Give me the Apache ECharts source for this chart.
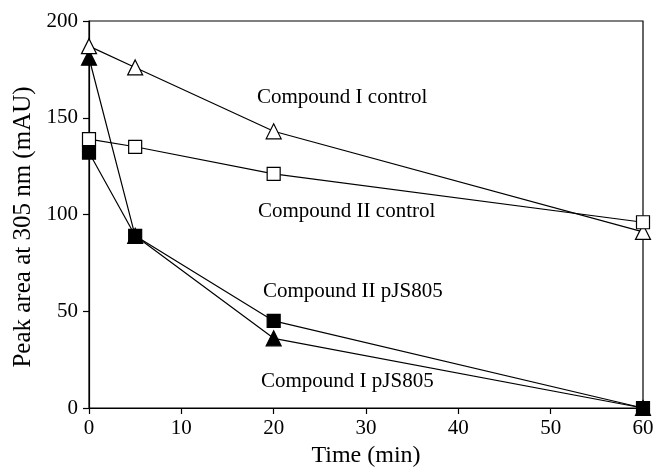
<!DOCTYPE html>
<html>
<head>
<meta charset="utf-8">
<script src="https://cdn.jsdelivr.net/npm/echarts@6/dist/echarts.min.js"></script>
<style>html,body{margin:0;padding:0;background:#fff}#c{width:656px;height:467px}</style>
</head>
<body>
<div id="c"></div>
<script>
var times = [0, 5, 20, 60];
var cmpIControl = [187, 176, 143, 91];
var cmpIIControl = [139, 135, 121, 96];
var cmpIpJS805 = [181, 89, 36, 0];
var cmpIIpJS805 = [132, 89, 45, 0];
var xTicks = [0, 10, 20, 30, 40, 50, 60];
var yTicks = [0, 50, 100, 150, 200];
var xTitle = 'Time (min)';
var yTitle = 'Peak area at 305 nm (mAU)';
var labels = [
  {text: 'Compound I control', x: 257, y: 97},
  {text: 'Compound II control', x: 258, y: 211},
  {text: 'Compound II pJS805', x: 263, y: 291},
  {text: 'Compound I pJS805', x: 261, y: 381}
];

var FONT = '"Liberation Serif", "Times New Roman", serif';
function pairs(vals){ return times.map(function(t,i){ return [t, vals[i]]; }); }
function mk(name, vals, symbol, filled, size){
  return {
    name: name, type: 'line', data: pairs(vals),
    symbol: symbol, symbolSize: size,
    lineStyle: {color: '#000', width: 1.2},
    itemStyle: {color: filled ? '#000' : '#fff', borderColor: '#000', borderWidth: 1.2},
    z: filled ? 3 : 4,
    animation: false
  };
}
var chart = echarts.init(document.getElementById('c'));
var annots = labels.map(function(l){
  return {type: 'text', x: l.x, y: l.y, z: 10,
    style: {text: l.text, font: '21px ' + FONT, fill: '#000', verticalAlign: 'middle', align: 'left'}};
});
annots.push({type: 'text', x: 23, y: 227, rotation: Math.PI / 2, z: 10,
  style: {text: yTitle, font: '25px ' + FONT, fill: '#000', verticalAlign: 'middle', align: 'center'}});
chart.setOption({
  animation: false,
  backgroundColor: '#fff',
  grid: {left: 89, right: 13, top: 21, bottom: 59, show: true, borderColor: '#000', borderWidth: 1.2,
    backgroundColor: 'transparent', outerBoundsMode: 'none', containLabel: false},
  xAxis: {
    type: 'value', min: 0, max: 60, interval: 10,
    name: xTitle, nameLocation: 'middle', nameGap: 34,
    nameTextStyle: {fontFamily: FONT, fontSize: 24, color: '#000'},
    axisLine: {show: true, lineStyle: {color: '#000', width: 1.2}},
    axisTick: {show: true, length: 6, lineStyle: {color: '#000', width: 1.2}},
    axisLabel: {fontFamily: FONT, fontSize: 21, color: '#000', margin: 10, customValues: xTicks},
    splitLine: {show: false}
  },
  yAxis: {
    type: 'value', min: 0, max: 200, interval: 50,
    axisLine: {show: true, lineStyle: {color: '#000', width: 1.2}},
    axisTick: {show: true, length: 6, lineStyle: {color: '#000', width: 1.2}},
    axisLabel: {fontFamily: FONT, fontSize: 21, color: '#000', margin: 11, customValues: yTicks},
    splitLine: {show: false}
  },
  series: [
    mk('Compound I control', cmpIControl, 'triangle', false, 15),
    mk('Compound II control', cmpIIControl, 'rect', false, 13),
    mk('Compound I pJS805', cmpIpJS805, 'triangle', true, 15),
    mk('Compound II pJS805', cmpIIpJS805, 'rect', true, 13)
  ],
  graphic: annots
});
</script>
</body>
</html>
